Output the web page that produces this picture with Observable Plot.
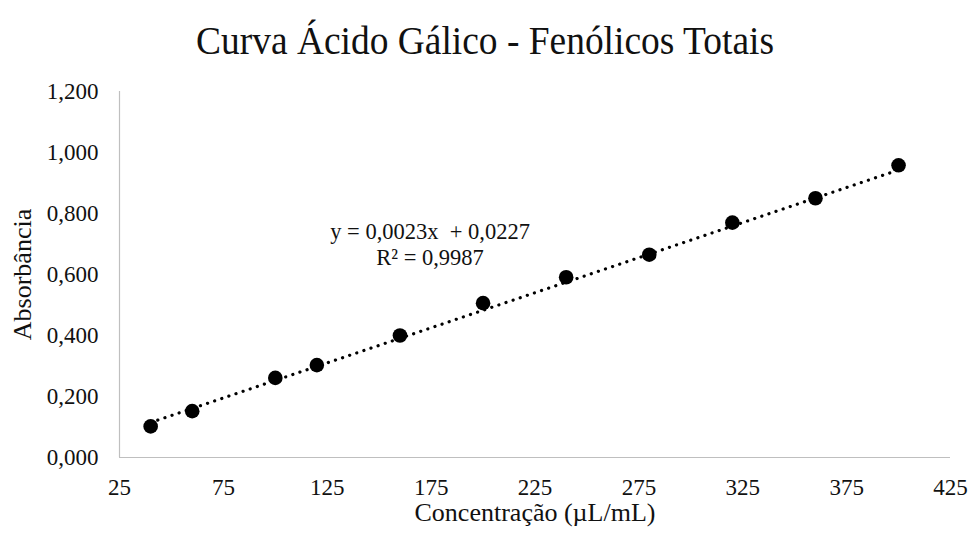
<!DOCTYPE html>
<html>
<head>
<meta charset="utf-8">
<script src="https://cdn.jsdelivr.net/npm/d3@7"></script>
<script src="https://cdn.jsdelivr.net/npm/@observablehq/plot@0.6"></script>
<style>
  body { margin: 0; background: #fff; font-family: "Liberation Serif", "Times New Roman", serif; }
  #title { height: 70px; display: flex; align-items: flex-end; justify-content: center; }
  #title span { font-size: 39px; color: #111; line-height: 1; padding-bottom: 10px; display: inline-block; transform: scaleX(0.96); white-space: pre; }
</style>
</head>
<body>
<div id="title"><span>Curva Ácido Gálico - Fenólicos Totais</span></div>
<div id="chart"></div>
<script>
// Gallic acid calibration: concentration vs absorbance
const concentration = [40, 60, 100, 120, 160, 200, 240, 280, 320, 360, 400];
const absorbance = [0.102, 0.152, 0.261, 0.303, 0.400, 0.506, 0.591, 0.665, 0.770, 0.850, 0.958];

// Linear fit reported on the chart
const slope = 0.0023;
const intercept = 0.0227;
const rSquared = 0.9987;

const xTicks = [25, 75, 125, 175, 225, 275, 325, 375, 425];
const yTicks = [0, 0.2, 0.4, 0.6, 0.8, 1.0, 1.2];

const xLabel = "Concentração (µL/mL)";
const yLabel = "Absorbância";

const comma = (v, digits) => v.toFixed(digits).replace(".", ",");

const points = concentration.map((c, i) => ({x: c, y: absorbance[i]}));
const xRange = d3.extent(concentration);
const fitLine = xRange.map(x => ({x, y: slope * x + intercept}));
const equation = `y = ${comma(slope, 4)}x\u00a0 + ${comma(intercept, 4)}\nR² = ${comma(rSquared, 4)}`;

const ink = "#111";

const chart = Plot.plot({
  width: 970,
  height: 465,
  marginTop: 21,
  marginBottom: 78,
  marginLeft: 119,
  marginRight: 20,
  style: {fontFamily: "'Liberation Serif', 'Times New Roman', serif", fontSize: "23px", color: ink, background: "#fff"},
  x: {domain: [25, 425]},
  y: {domain: [0, 1.2]},
  marks: [
    Plot.ruleX([25], {stroke: "#bfbfbf", strokeWidth: 1.2}),
    Plot.ruleY([0], {stroke: "#bfbfbf", strokeWidth: 1.2}),
    Plot.axisX({ticks: xTicks, tickSize: 0, tickPadding: 21, label: null, fontSize: 23, tickFormat: d => String(d)}),
    Plot.axisY({ticks: yTicks, tickSize: 0, tickPadding: 21, label: null, fontSize: 23, tickFormat: d => comma(d, 3)}),
    Plot.line(fitLine, {x: "x", y: "y", stroke: "#000", strokeWidth: 3.2, strokeDasharray: "0.1 7.4", strokeLinecap: "round"}),
    Plot.dot(points, {x: "x", y: "y", r: 7.3, fill: "#000", stroke: "none"}),
    Plot.text([equation], {x: 174.5, y: 0.702, text: d => d, fontSize: 22.5, lineHeight: 1.16, fill: ink}),
    Plot.text([xLabel], {frameAnchor: "bottom", dy: 63, text: d => d, fontSize: 26, fill: ink}),
    Plot.text([yLabel], {frameAnchor: "left", dx: -97, rotate: -90, textAnchor: "middle", text: d => d, fontSize: 26, fill: ink})
  ]
});
document.getElementById("chart").appendChild(chart);
</script>
</body>
</html>
